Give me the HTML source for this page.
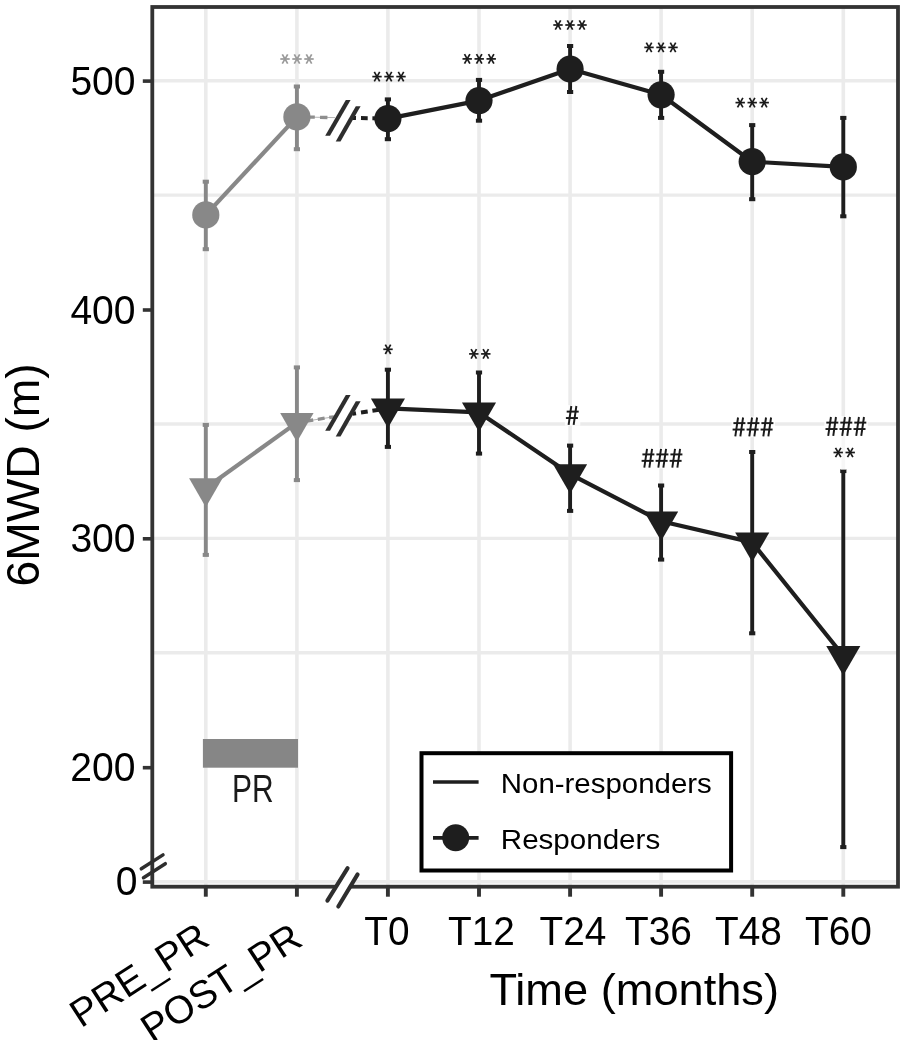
<!DOCTYPE html>
<html><head><meta charset="utf-8"><title>6MWD</title>
<style>html,body{margin:0;padding:0;background:#fff}body{width:904px;height:1040px;overflow:hidden}</style></head>
<body>
<svg width="904" height="1040" viewBox="0 0 904 1040" style="display:block;will-change:transform;filter:grayscale(1);font-family:'Liberation Sans',sans-serif">
<rect width="904" height="1040" fill="#fff"/>
<line x1="152.3" x2="898.0" y1="80.7" y2="80.7" stroke="#ebebeb" stroke-width="3.4"/>
<line x1="152.3" x2="898.0" y1="195.1" y2="195.1" stroke="#ebebeb" stroke-width="3.4"/>
<line x1="152.3" x2="898.0" y1="424.0" y2="424.0" stroke="#ebebeb" stroke-width="3.4"/>
<line x1="152.3" x2="898.0" y1="538.4" y2="538.4" stroke="#ebebeb" stroke-width="3.4"/>
<line x1="152.3" x2="898.0" y1="652.8" y2="652.8" stroke="#ebebeb" stroke-width="3.4"/>
<line x1="152.3" x2="898.0" y1="881.7" y2="881.7" stroke="#ebebeb" stroke-width="3.4"/>
<line x1="205.8" x2="205.8" y1="7.0" y2="886.7" stroke="#ebebeb" stroke-width="3.6"/>
<line x1="296.9" x2="296.9" y1="7.0" y2="886.7" stroke="#ebebeb" stroke-width="3.6"/>
<line x1="387.9" x2="387.9" y1="7.0" y2="886.7" stroke="#ebebeb" stroke-width="3.6"/>
<line x1="479.0" x2="479.0" y1="7.0" y2="886.7" stroke="#ebebeb" stroke-width="3.6"/>
<line x1="570.1" x2="570.1" y1="7.0" y2="886.7" stroke="#ebebeb" stroke-width="3.6"/>
<line x1="661.1" x2="661.1" y1="7.0" y2="886.7" stroke="#ebebeb" stroke-width="3.6"/>
<line x1="752.2" x2="752.2" y1="7.0" y2="886.7" stroke="#ebebeb" stroke-width="3.6"/>
<line x1="843.3" x2="843.3" y1="7.0" y2="886.7" stroke="#ebebeb" stroke-width="3.6"/>
<rect x="202.9" y="739" width="95.1" height="28.7" fill="#868686"/>
<text x="252.8" y="801.8" font-size="38.3" text-anchor="middle" fill="#1a1a1a" textLength="41.6" lengthAdjust="spacingAndGlyphs">PR</text>
<line x1="205.8" y1="214.9" x2="296.9" y2="116.9" stroke="#888888" stroke-width="4.2"/>
<line x1="296.9" y1="116.9" x2="335" y2="117.6" stroke="#b5b5b5" stroke-width="1"/>
<line x1="308.5" y1="117.1" x2="314.8" y2="117.2" stroke="#8e8e8e" stroke-width="3.3"/>
<line x1="320.0" y1="117.3" x2="327.4" y2="117.5" stroke="#8e8e8e" stroke-width="3.3"/>
<line x1="352.5" y1="117.9" x2="356.0" y2="118.0" stroke="#1e1e1e" stroke-width="4.0"/>
<line x1="361.0" y1="118.1" x2="367.7" y2="118.2" stroke="#1e1e1e" stroke-width="4.0"/>
<line x1="372.4" y1="118.3" x2="379.0" y2="118.4" stroke="#1e1e1e" stroke-width="4.0"/>
<polyline points="387.9,118.6 479.0,100.6 570.1,69.0 661.1,94.8 752.2,161.7 843.3,166.9" fill="none" stroke="#1e1e1e" stroke-width="4.2" stroke-linejoin="round"/>
<polygon points="327.6,135.7 348.2,100.1 358.2,106.29999999999998 338.1,141.5" fill="#fff"/>
<polygon points="325.20,135.70 330.00,135.70 350.60,100.10 345.80,100.10" fill="#2e2e2e"/>
<polygon points="335.70,141.50 340.50,141.50 360.60,106.30 355.80,106.30" fill="#2e2e2e"/>
<line x1="205.8" x2="205.8" y1="181.7" y2="249.2" stroke="#888888" stroke-width="3.9"/>
<rect x="202.7" y="179.7" width="6.2" height="4" fill="#888888"/>
<rect x="202.7" y="247.2" width="6.2" height="4" fill="#888888"/>
<circle cx="205.8" cy="214.9" r="13.6" fill="#888888"/>
<line x1="296.9" x2="296.9" y1="86.5" y2="149.2" stroke="#888888" stroke-width="3.9"/>
<rect x="293.8" y="84.5" width="6.2" height="4" fill="#888888"/>
<rect x="293.8" y="147.2" width="6.2" height="4" fill="#888888"/>
<circle cx="296.9" cy="116.9" r="13.6" fill="#888888"/>
<line x1="387.9" x2="387.9" y1="99.4" y2="139.2" stroke="#1e1e1e" stroke-width="3.9"/>
<rect x="384.8" y="97.4" width="6.2" height="4" fill="#1e1e1e"/>
<rect x="384.8" y="137.2" width="6.2" height="4" fill="#1e1e1e"/>
<circle cx="387.9" cy="118.6" r="13.6" fill="#1e1e1e"/>
<line x1="479.0" x2="479.0" y1="79.9" y2="120.7" stroke="#1e1e1e" stroke-width="3.9"/>
<rect x="475.9" y="77.9" width="6.2" height="4" fill="#1e1e1e"/>
<rect x="475.9" y="118.7" width="6.2" height="4" fill="#1e1e1e"/>
<circle cx="479.0" cy="100.6" r="13.6" fill="#1e1e1e"/>
<line x1="570.1" x2="570.1" y1="46.0" y2="92.0" stroke="#1e1e1e" stroke-width="3.9"/>
<rect x="567.0" y="44.0" width="6.2" height="4" fill="#1e1e1e"/>
<rect x="567.0" y="90.0" width="6.2" height="4" fill="#1e1e1e"/>
<circle cx="570.1" cy="69.0" r="13.6" fill="#1e1e1e"/>
<line x1="661.1" x2="661.1" y1="71.8" y2="117.9" stroke="#1e1e1e" stroke-width="3.9"/>
<rect x="658.0" y="69.8" width="6.2" height="4" fill="#1e1e1e"/>
<rect x="658.0" y="115.9" width="6.2" height="4" fill="#1e1e1e"/>
<circle cx="661.1" cy="94.8" r="13.6" fill="#1e1e1e"/>
<line x1="752.2" x2="752.2" y1="125.1" y2="199.2" stroke="#1e1e1e" stroke-width="3.9"/>
<rect x="749.1" y="123.1" width="6.2" height="4" fill="#1e1e1e"/>
<rect x="749.1" y="197.2" width="6.2" height="4" fill="#1e1e1e"/>
<circle cx="752.2" cy="161.7" r="13.6" fill="#1e1e1e"/>
<line x1="843.3" x2="843.3" y1="117.9" y2="216.3" stroke="#1e1e1e" stroke-width="3.9"/>
<rect x="840.2" y="115.9" width="6.2" height="4" fill="#1e1e1e"/>
<rect x="840.2" y="214.3" width="6.2" height="4" fill="#1e1e1e"/>
<circle cx="843.3" cy="166.9" r="13.6" fill="#1e1e1e"/>
<line x1="205.8" y1="488.0" x2="296.9" y2="422.6" stroke="#888888" stroke-width="4.2"/>
<line x1="296.9" y1="422.6" x2="335" y2="416.6" stroke="#b5b5b5" stroke-width="1"/>
<line x1="306.5" y1="421.1" x2="313.2" y2="420.0" stroke="#8e8e8e" stroke-width="3.3"/>
<line x1="317.8" y1="419.3" x2="324.6" y2="418.2" stroke="#8e8e8e" stroke-width="3.3"/>
<line x1="329.2" y1="417.5" x2="334.0" y2="416.8" stroke="#8e8e8e" stroke-width="3.3"/>
<line x1="352.5" y1="413.9" x2="356.0" y2="413.3" stroke="#1e1e1e" stroke-width="4.0"/>
<line x1="361.0" y1="412.5" x2="367.7" y2="411.5" stroke="#1e1e1e" stroke-width="4.0"/>
<line x1="372.4" y1="410.7" x2="379.0" y2="409.7" stroke="#1e1e1e" stroke-width="4.0"/>
<polyline points="387.9,408.3 479.0,412.4 570.1,474.1 661.1,521.3 752.2,542.4 843.3,655.8" fill="none" stroke="#1e1e1e" stroke-width="4.2" stroke-linejoin="round"/>
<polygon points="327.6,430.7 348.2,395.09999999999997 358.2,401.3 338.1,436.5" fill="#fff"/>
<polygon points="325.20,430.70 330.00,430.70 350.60,395.10 345.80,395.10" fill="#2e2e2e"/>
<polygon points="335.70,436.50 340.50,436.50 360.60,401.30 355.80,401.30" fill="#2e2e2e"/>
<line x1="205.8" x2="205.8" y1="424.9" y2="554.9" stroke="#888888" stroke-width="3.9"/>
<rect x="202.7" y="422.9" width="6.2" height="4" fill="#888888"/>
<rect x="202.7" y="552.9" width="6.2" height="4" fill="#888888"/>
<polygon points="189.10,478.35 222.50,478.35 205.80,507.28" fill="#888888"/>
<line x1="296.9" x2="296.9" y1="367.4" y2="480.1" stroke="#888888" stroke-width="3.9"/>
<rect x="293.8" y="365.4" width="6.2" height="4" fill="#888888"/>
<rect x="293.8" y="478.1" width="6.2" height="4" fill="#888888"/>
<polygon points="280.17,412.95 313.57,412.95 296.87,441.88" fill="#888888"/>
<line x1="387.9" x2="387.9" y1="369.7" y2="446.9" stroke="#1e1e1e" stroke-width="3.9"/>
<rect x="384.8" y="367.7" width="6.2" height="4" fill="#1e1e1e"/>
<rect x="384.8" y="444.9" width="6.2" height="4" fill="#1e1e1e"/>
<polygon points="370.89,398.45 404.99,398.45 387.94,427.98" fill="#1e1e1e"/>
<line x1="479.0" x2="479.0" y1="372.5" y2="453.6" stroke="#1e1e1e" stroke-width="3.9"/>
<rect x="475.9" y="370.5" width="6.2" height="4" fill="#1e1e1e"/>
<rect x="475.9" y="451.6" width="6.2" height="4" fill="#1e1e1e"/>
<polygon points="461.96,402.55 496.06,402.55 479.01,432.08" fill="#1e1e1e"/>
<line x1="570.1" x2="570.1" y1="445.6" y2="510.9" stroke="#1e1e1e" stroke-width="3.9"/>
<rect x="567.0" y="443.6" width="6.2" height="4" fill="#1e1e1e"/>
<rect x="567.0" y="508.9" width="6.2" height="4" fill="#1e1e1e"/>
<polygon points="553.03,464.25 587.13,464.25 570.08,493.78" fill="#1e1e1e"/>
<line x1="661.1" x2="661.1" y1="485.5" y2="559.6" stroke="#1e1e1e" stroke-width="3.9"/>
<rect x="658.0" y="483.5" width="6.2" height="4" fill="#1e1e1e"/>
<rect x="658.0" y="557.6" width="6.2" height="4" fill="#1e1e1e"/>
<polygon points="644.10,511.45 678.20,511.45 661.15,540.98" fill="#1e1e1e"/>
<line x1="752.2" x2="752.2" y1="452.0" y2="633.3" stroke="#1e1e1e" stroke-width="3.9"/>
<rect x="749.1" y="450.0" width="6.2" height="4" fill="#1e1e1e"/>
<rect x="749.1" y="631.3" width="6.2" height="4" fill="#1e1e1e"/>
<polygon points="735.17,532.55 769.27,532.55 752.22,562.08" fill="#1e1e1e"/>
<line x1="843.3" x2="843.3" y1="471.1" y2="847.1" stroke="#1e1e1e" stroke-width="3.9"/>
<rect x="840.2" y="469.1" width="6.2" height="4" fill="#1e1e1e"/>
<rect x="840.2" y="845.1" width="6.2" height="4" fill="#1e1e1e"/>
<polygon points="826.24,645.95 860.34,645.95 843.29,675.48" fill="#1e1e1e"/>
<g stroke="#999999" stroke-width="1.7" stroke-linecap="butt"><line x1="280.30" y1="59.00" x2="289.70" y2="59.00"/><line x1="282.30" y1="54.30" x2="287.70" y2="63.70"/><line x1="287.70" y1="54.30" x2="282.30" y2="63.70"/></g>
<g stroke="#999999" stroke-width="1.7" stroke-linecap="butt"><line x1="292.30" y1="59.00" x2="301.70" y2="59.00"/><line x1="294.30" y1="54.30" x2="299.70" y2="63.70"/><line x1="299.70" y1="54.30" x2="294.30" y2="63.70"/></g>
<g stroke="#999999" stroke-width="1.7" stroke-linecap="butt"><line x1="304.30" y1="59.00" x2="313.70" y2="59.00"/><line x1="306.30" y1="54.30" x2="311.70" y2="63.70"/><line x1="311.70" y1="54.30" x2="306.30" y2="63.70"/></g>
<g stroke="#1a1a1a" stroke-width="1.7" stroke-linecap="butt"><line x1="372.30" y1="76.60" x2="381.70" y2="76.60"/><line x1="374.30" y1="71.90" x2="379.70" y2="81.30"/><line x1="379.70" y1="71.90" x2="374.30" y2="81.30"/></g>
<g stroke="#1a1a1a" stroke-width="1.7" stroke-linecap="butt"><line x1="384.30" y1="76.60" x2="393.70" y2="76.60"/><line x1="386.30" y1="71.90" x2="391.70" y2="81.30"/><line x1="391.70" y1="71.90" x2="386.30" y2="81.30"/></g>
<g stroke="#1a1a1a" stroke-width="1.7" stroke-linecap="butt"><line x1="396.30" y1="76.60" x2="405.70" y2="76.60"/><line x1="398.30" y1="71.90" x2="403.70" y2="81.30"/><line x1="403.70" y1="71.90" x2="398.30" y2="81.30"/></g>
<g stroke="#1a1a1a" stroke-width="1.7" stroke-linecap="butt"><line x1="462.50" y1="58.90" x2="471.90" y2="58.90"/><line x1="464.50" y1="54.20" x2="469.90" y2="63.60"/><line x1="469.90" y1="54.20" x2="464.50" y2="63.60"/></g>
<g stroke="#1a1a1a" stroke-width="1.7" stroke-linecap="butt"><line x1="474.50" y1="58.90" x2="483.90" y2="58.90"/><line x1="476.50" y1="54.20" x2="481.90" y2="63.60"/><line x1="481.90" y1="54.20" x2="476.50" y2="63.60"/></g>
<g stroke="#1a1a1a" stroke-width="1.7" stroke-linecap="butt"><line x1="486.50" y1="58.90" x2="495.90" y2="58.90"/><line x1="488.50" y1="54.20" x2="493.90" y2="63.60"/><line x1="493.90" y1="54.20" x2="488.50" y2="63.60"/></g>
<g stroke="#1a1a1a" stroke-width="1.7" stroke-linecap="butt"><line x1="553.30" y1="25.00" x2="562.70" y2="25.00"/><line x1="555.30" y1="20.30" x2="560.70" y2="29.70"/><line x1="560.70" y1="20.30" x2="555.30" y2="29.70"/></g>
<g stroke="#1a1a1a" stroke-width="1.7" stroke-linecap="butt"><line x1="565.30" y1="25.00" x2="574.70" y2="25.00"/><line x1="567.30" y1="20.30" x2="572.70" y2="29.70"/><line x1="572.70" y1="20.30" x2="567.30" y2="29.70"/></g>
<g stroke="#1a1a1a" stroke-width="1.7" stroke-linecap="butt"><line x1="577.30" y1="25.00" x2="586.70" y2="25.00"/><line x1="579.30" y1="20.30" x2="584.70" y2="29.70"/><line x1="584.70" y1="20.30" x2="579.30" y2="29.70"/></g>
<g stroke="#1a1a1a" stroke-width="1.7" stroke-linecap="butt"><line x1="644.30" y1="47.40" x2="653.70" y2="47.40"/><line x1="646.30" y1="42.70" x2="651.70" y2="52.10"/><line x1="651.70" y1="42.70" x2="646.30" y2="52.10"/></g>
<g stroke="#1a1a1a" stroke-width="1.7" stroke-linecap="butt"><line x1="656.30" y1="47.40" x2="665.70" y2="47.40"/><line x1="658.30" y1="42.70" x2="663.70" y2="52.10"/><line x1="663.70" y1="42.70" x2="658.30" y2="52.10"/></g>
<g stroke="#1a1a1a" stroke-width="1.7" stroke-linecap="butt"><line x1="668.30" y1="47.40" x2="677.70" y2="47.40"/><line x1="670.30" y1="42.70" x2="675.70" y2="52.10"/><line x1="675.70" y1="42.70" x2="670.30" y2="52.10"/></g>
<g stroke="#1a1a1a" stroke-width="1.7" stroke-linecap="butt"><line x1="735.50" y1="102.60" x2="744.90" y2="102.60"/><line x1="737.50" y1="97.90" x2="742.90" y2="107.30"/><line x1="742.90" y1="97.90" x2="737.50" y2="107.30"/></g>
<g stroke="#1a1a1a" stroke-width="1.7" stroke-linecap="butt"><line x1="747.50" y1="102.60" x2="756.90" y2="102.60"/><line x1="749.50" y1="97.90" x2="754.90" y2="107.30"/><line x1="754.90" y1="97.90" x2="749.50" y2="107.30"/></g>
<g stroke="#1a1a1a" stroke-width="1.7" stroke-linecap="butt"><line x1="759.50" y1="102.60" x2="768.90" y2="102.60"/><line x1="761.50" y1="97.90" x2="766.90" y2="107.30"/><line x1="766.90" y1="97.90" x2="761.50" y2="107.30"/></g>
<g stroke="#1a1a1a" stroke-width="1.7" stroke-linecap="butt"><line x1="383.30" y1="349.30" x2="392.70" y2="349.30"/><line x1="385.30" y1="344.60" x2="390.70" y2="354.00"/><line x1="390.70" y1="344.60" x2="385.30" y2="354.00"/></g>
<g stroke="#1a1a1a" stroke-width="1.7" stroke-linecap="butt"><line x1="469.10" y1="353.90" x2="478.50" y2="353.90"/><line x1="471.10" y1="349.20" x2="476.50" y2="358.60"/><line x1="476.50" y1="349.20" x2="471.10" y2="358.60"/></g>
<g stroke="#1a1a1a" stroke-width="1.7" stroke-linecap="butt"><line x1="481.10" y1="353.90" x2="490.50" y2="353.90"/><line x1="483.10" y1="349.20" x2="488.50" y2="358.60"/><line x1="488.50" y1="349.20" x2="483.10" y2="358.60"/></g>
<rect x="840.5" y="437" width="6" height="33" fill="#fff" opacity="0.6"/>
<g stroke="#1a1a1a" stroke-width="1.7" stroke-linecap="butt"><line x1="833.50" y1="452.50" x2="842.90" y2="452.50"/><line x1="835.50" y1="447.80" x2="840.90" y2="457.20"/><line x1="840.90" y1="447.80" x2="835.50" y2="457.20"/></g>
<g stroke="#1a1a1a" stroke-width="1.7" stroke-linecap="butt"><line x1="845.50" y1="452.50" x2="854.90" y2="452.50"/><line x1="847.50" y1="447.80" x2="852.90" y2="457.20"/><line x1="852.90" y1="447.80" x2="847.50" y2="457.20"/></g>
<rect x="564.8" y="405.1" width="15.5" height="20.6" fill="#fff" opacity="0.85"/>
<g stroke="#1a1a1a" stroke-width="1.95" stroke-linecap="butt"><line x1="571.33" y1="406.00" x2="568.62" y2="424.80"/><line x1="576.37" y1="406.00" x2="573.66" y2="424.80"/><line x1="566.70" y1="411.62" x2="578.70" y2="411.62"/><line x1="565.90" y1="418.05" x2="577.90" y2="418.05"/></g>
<rect x="640.5" y="447.9" width="43.5" height="20.6" fill="#fff" opacity="0.85"/>
<g stroke="#1a1a1a" stroke-width="1.95" stroke-linecap="butt"><line x1="647.03" y1="448.80" x2="644.32" y2="467.60"/><line x1="652.07" y1="448.80" x2="649.36" y2="467.60"/><line x1="642.40" y1="454.42" x2="654.40" y2="454.42"/><line x1="641.60" y1="460.85" x2="653.60" y2="460.85"/></g>
<g stroke="#1a1a1a" stroke-width="1.95" stroke-linecap="butt"><line x1="661.03" y1="448.80" x2="658.32" y2="467.60"/><line x1="666.07" y1="448.80" x2="663.36" y2="467.60"/><line x1="656.40" y1="454.42" x2="668.40" y2="454.42"/><line x1="655.60" y1="460.85" x2="667.60" y2="460.85"/></g>
<g stroke="#1a1a1a" stroke-width="1.95" stroke-linecap="butt"><line x1="675.03" y1="448.80" x2="672.32" y2="467.60"/><line x1="680.07" y1="448.80" x2="677.36" y2="467.60"/><line x1="670.40" y1="454.42" x2="682.40" y2="454.42"/><line x1="669.60" y1="460.85" x2="681.60" y2="460.85"/></g>
<rect x="731.5" y="416.6" width="43.5" height="20.6" fill="#fff" opacity="0.85"/>
<g stroke="#1a1a1a" stroke-width="1.95" stroke-linecap="butt"><line x1="738.03" y1="417.50" x2="735.32" y2="436.30"/><line x1="743.07" y1="417.50" x2="740.36" y2="436.30"/><line x1="733.40" y1="423.12" x2="745.40" y2="423.12"/><line x1="732.60" y1="429.55" x2="744.60" y2="429.55"/></g>
<g stroke="#1a1a1a" stroke-width="1.95" stroke-linecap="butt"><line x1="752.03" y1="417.50" x2="749.32" y2="436.30"/><line x1="757.07" y1="417.50" x2="754.36" y2="436.30"/><line x1="747.40" y1="423.12" x2="759.40" y2="423.12"/><line x1="746.60" y1="429.55" x2="758.60" y2="429.55"/></g>
<g stroke="#1a1a1a" stroke-width="1.95" stroke-linecap="butt"><line x1="766.03" y1="417.50" x2="763.32" y2="436.30"/><line x1="771.07" y1="417.50" x2="768.36" y2="436.30"/><line x1="761.40" y1="423.12" x2="773.40" y2="423.12"/><line x1="760.60" y1="429.55" x2="772.60" y2="429.55"/></g>
<rect x="824.4" y="416.1" width="43.5" height="20.6" fill="#fff" opacity="0.85"/>
<g stroke="#1a1a1a" stroke-width="1.95" stroke-linecap="butt"><line x1="830.93" y1="417.00" x2="828.22" y2="435.80"/><line x1="835.97" y1="417.00" x2="833.26" y2="435.80"/><line x1="826.30" y1="422.62" x2="838.30" y2="422.62"/><line x1="825.50" y1="429.05" x2="837.50" y2="429.05"/></g>
<g stroke="#1a1a1a" stroke-width="1.95" stroke-linecap="butt"><line x1="844.93" y1="417.00" x2="842.22" y2="435.80"/><line x1="849.97" y1="417.00" x2="847.26" y2="435.80"/><line x1="840.30" y1="422.62" x2="852.30" y2="422.62"/><line x1="839.50" y1="429.05" x2="851.50" y2="429.05"/></g>
<g stroke="#1a1a1a" stroke-width="1.95" stroke-linecap="butt"><line x1="858.93" y1="417.00" x2="856.22" y2="435.80"/><line x1="863.97" y1="417.00" x2="861.26" y2="435.80"/><line x1="854.30" y1="422.62" x2="866.30" y2="422.62"/><line x1="853.50" y1="429.05" x2="865.50" y2="429.05"/></g>
<rect x="421.5" y="753.2" width="309.6" height="117.3" fill="#fff" stroke="#000" stroke-width="4"/>
<line x1="433" x2="478.6" y1="782" y2="782" stroke="#1e1e1e" stroke-width="3.7"/>
<line x1="433" x2="478.6" y1="837.8" y2="837.8" stroke="#1e1e1e" stroke-width="3.7"/>
<circle cx="455.7" cy="837.8" r="13.5" fill="#1e1e1e"/>
<text x="500.8" y="792.7" font-size="28.2" textLength="211" lengthAdjust="spacingAndGlyphs" fill="#000">Non-responders</text>
<text x="500.8" y="848.8" font-size="28.2" textLength="159.4" lengthAdjust="spacingAndGlyphs" fill="#000">Responders</text>
<rect x="152.3" y="7.0" width="745.7" height="879.7" fill="none" stroke="#333333" stroke-width="3.8"/>
<line x1="142.8" x2="152.3" y1="81.1" y2="81.1" stroke="#333333" stroke-width="3.6"/>
<line x1="142.8" x2="152.3" y1="310.0" y2="310.0" stroke="#333333" stroke-width="3.6"/>
<line x1="142.8" x2="152.3" y1="538.8" y2="538.8" stroke="#333333" stroke-width="3.6"/>
<line x1="142.8" x2="152.3" y1="767.7" y2="767.7" stroke="#333333" stroke-width="3.6"/>
<line x1="142.8" x2="152.3" y1="882.1" y2="882.1" stroke="#333333" stroke-width="3.6"/>
<line x1="205.8" x2="205.8" y1="886.7" y2="896.7" stroke="#333333" stroke-width="3.9"/>
<line x1="296.9" x2="296.9" y1="886.7" y2="896.7" stroke="#333333" stroke-width="3.9"/>
<line x1="387.9" x2="387.9" y1="886.7" y2="896.7" stroke="#333333" stroke-width="3.9"/>
<line x1="479.0" x2="479.0" y1="886.7" y2="896.7" stroke="#333333" stroke-width="3.9"/>
<line x1="570.1" x2="570.1" y1="886.7" y2="896.7" stroke="#333333" stroke-width="3.9"/>
<line x1="661.1" x2="661.1" y1="886.7" y2="896.7" stroke="#333333" stroke-width="3.9"/>
<line x1="752.2" x2="752.2" y1="886.7" y2="896.7" stroke="#333333" stroke-width="3.9"/>
<line x1="843.3" x2="843.3" y1="886.7" y2="896.7" stroke="#333333" stroke-width="3.9"/>
<polygon points="327.4,900.7 347.6,868.2 357.6,874.4000000000001 338.3,906.5" fill="#fff"/>
<line x1="327.4" y1="900.7" x2="347.6" y2="868.2" stroke="#2e2e2e" stroke-width="4.1" stroke-linecap="round"/>
<line x1="338.3" y1="906.5" x2="357.6" y2="874.4" stroke="#2e2e2e" stroke-width="4.1" stroke-linecap="round"/>
<line x1="141.3" y1="868.8" x2="163.0" y2="854.9" stroke="#2e2e2e" stroke-width="3.5" stroke-linecap="round"/>
<line x1="143.5" y1="877.7" x2="165.3" y2="863.7" stroke="#2e2e2e" stroke-width="3.5" stroke-linecap="round"/>
<text transform="translate(135.6,94.9) scale(1,1.035)" font-size="39.1" text-anchor="end" fill="#000">500</text>
<text transform="translate(135.6,324.1) scale(1,1.035)" font-size="39.1" text-anchor="end" fill="#000">400</text>
<text transform="translate(135.6,552.1) scale(1,1.035)" font-size="39.1" text-anchor="end" fill="#000">300</text>
<text transform="translate(135.4,780.5) scale(1,1.035)" font-size="39.1" text-anchor="end" fill="#000">200</text>
<text transform="translate(137.6,894.9) scale(1,1.035)" font-size="39.1" text-anchor="end" fill="#000">0</text>
<text transform="translate(386.9,944.9) scale(1,1.03)" font-size="38.8" text-anchor="middle" fill="#000">T0</text>
<text transform="translate(481.5,944.9) scale(1,1.03)" font-size="38.8" text-anchor="middle" fill="#000">T12</text>
<text transform="translate(573.0,944.9) scale(1,1.03)" font-size="38.8" text-anchor="middle" fill="#000">T24</text>
<text transform="translate(658.4,944.9) scale(1,1.03)" font-size="38.8" text-anchor="middle" fill="#000">T36</text>
<text transform="translate(748.5,944.9) scale(1,1.03)" font-size="38.8" text-anchor="middle" fill="#000">T48</text>
<text transform="translate(838.5,944.9) scale(1,1.03)" font-size="38.8" text-anchor="middle" fill="#000">T60</text>
<text transform="translate(211.6,943.7) rotate(-33)" font-size="38.9" text-anchor="end" fill="#000">PRE_PR</text>
<text transform="translate(304.6,944.1) rotate(-33)" font-size="39" text-anchor="end" fill="#000">POST_PR</text>
<text x="634.2" y="1005" font-size="45.2" text-anchor="middle" fill="#000">Time (months)</text>
<text transform="translate(38.9,474.9) rotate(-90)" font-size="46.2" text-anchor="middle" fill="#000">6MWD (m)</text>
</svg>
</body></html>
